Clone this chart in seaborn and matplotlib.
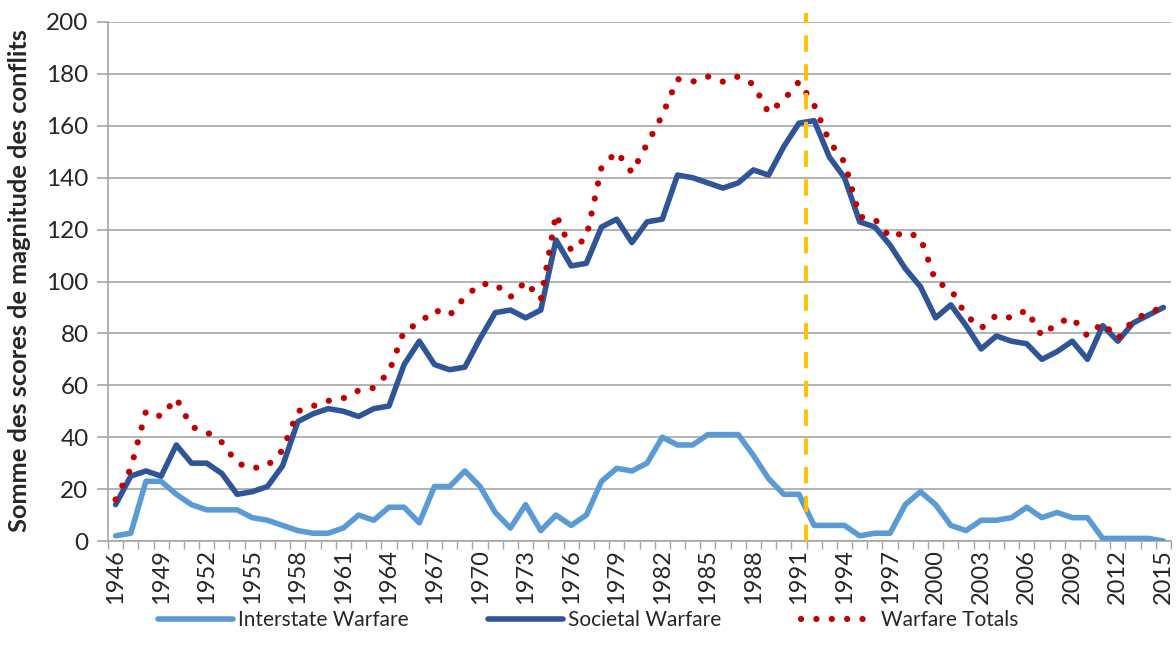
import matplotlib
matplotlib.use("Agg")
import matplotlib.pyplot as plt
import pandas as pd
import seaborn as sns
from matplotlib.ticker import FixedLocator, MultipleLocator

# ── Data ─────────────────────────────────────────────────────────────────────

years = list(range(1946, 2016))

interstate = [
    2, 3, 23, 23, 18, 14, 12, 12, 12, 9,
    8, 6, 4, 3, 3, 5, 10, 8, 13, 13,
    7, 21, 21, 27, 21, 11, 5, 14, 4, 10,
    6, 10, 23, 28, 27, 30, 40, 37, 37, 41,
    41, 41, 33, 24, 18, 18, 6, 6, 6, 2,
    3, 3, 14, 19, 14, 6, 4, 8, 8, 9,
    13, 9, 11, 9, 9, 1, 1, 1, 1, 0,
]

societal = [
    14, 25, 27, 25, 37, 30, 30, 26, 18, 19,
    21, 29, 46, 49, 51, 50, 48, 51, 52, 68,
    77, 68, 66, 67, 78, 88, 89, 86, 89, 116,
    106, 107, 121, 124, 115, 123, 124, 141, 140, 138,
    136, 138, 143, 141, 152, 161, 162, 148, 140, 123,
    121, 114, 105, 98, 86, 91, 83, 74, 79, 77,
    76, 70, 73, 77, 70, 83, 77, 84, 87, 90,
]

totals = [
    16, 28, 50, 48, 55, 44, 42, 38, 30, 28,
    29, 35, 50, 52, 54, 55, 58, 59, 65, 81,
    84, 89, 87, 94, 99, 99, 94, 100, 93, 126,
    112, 117, 144, 150, 142, 153, 164, 178, 177, 179,
    177, 179, 176, 165, 170, 177, 168, 154, 146, 125,
    124, 117, 119, 117, 100, 97, 87, 82, 87, 86,
    89, 79, 84, 86, 79, 84, 78, 85, 88, 90,
]

series_labels = ["Interstate Warfare", "Societal Warfare", "Warfare Totals"]
marker_year = 1991.45
y_label = "Somme des scores de magnitude des conflits"

df = pd.DataFrame({"year": years, "interstate": interstate,
                   "societal": societal, "totals": totals})

# ── Style ────────────────────────────────────────────────────────────────────

sns.set_style("white")
plt.rcParams["font.family"] = ["Lato", "DejaVu Sans"]

GRID = "#A6A6A6"

fig = plt.figure(figsize=(11.76, 6.61), dpi=100)
ax = fig.add_axes([108 / 1176, 120 / 661, 1063 / 1176, 519 / 661])

sns.lineplot(data=df, x="year", y="interstate", ax=ax, color="#5B9BD5",
             linewidth=4.0, label=series_labels[0], zorder=3)
sns.lineplot(data=df, x="year", y="societal", ax=ax, color="#2F5597",
             linewidth=4.0, label=series_labels[1], zorder=4)
sns.lineplot(data=df, x="year", y="totals", ax=ax, color="#C00000",
             linewidth=4.5, linestyle=(0, (0.01, 2.45)), dash_capstyle="round",
             label=series_labels[2], zorder=5)

ax.axvline(marker_year, ymin=0, ymax=1.018, color="#FFC000", linewidth=2.8,
           linestyle=(0, (4.2, 3.2)), clip_on=False, zorder=6)

# axes
ax.set_xlim(1945.5, 2015.5)
ax.set_ylim(0, 200)
ax.yaxis.set_major_locator(MultipleLocator(20))
ax.grid(axis="y", color=GRID, linewidth=1.2)
ax.set_axisbelow(True)

ax.xaxis.set_major_locator(FixedLocator(years[::3]))
ax.xaxis.set_minor_locator(FixedLocator([y - 0.5 for y in years] + [2015.5]))
ax.tick_params(axis="x", which="major", length=0, pad=6, labelsize=17,
               labelrotation=90)
ax.tick_params(axis="x", which="minor", length=6, width=1, color=GRID,
               direction="out", bottom=True)
ax.tick_params(axis="y", length=8, width=1.2, color=GRID, direction="out",
               left=True, pad=6, labelsize=17.5)

for side in ("top", "right"):
    ax.spines[side].set_visible(False)
for side in ("left", "bottom"):
    ax.spines[side].set_color(GRID)
    ax.spines[side].set_linewidth(1.2)

ax.set_xlabel("")
ax.set_ylabel(y_label, fontsize=18.3, fontweight="bold")
ax.yaxis.set_label_coords(-0.072, 0.502)

ax.legend(loc="center", bbox_to_anchor=(0.5, 41 / 661),
          bbox_transform=fig.transFigure, ncol=3, frameon=False,
          fontsize=15, handlelength=3.6, handletextpad=0.25,
          columnspacing=3.8)

fig.savefig("out.png", dpi=100)
